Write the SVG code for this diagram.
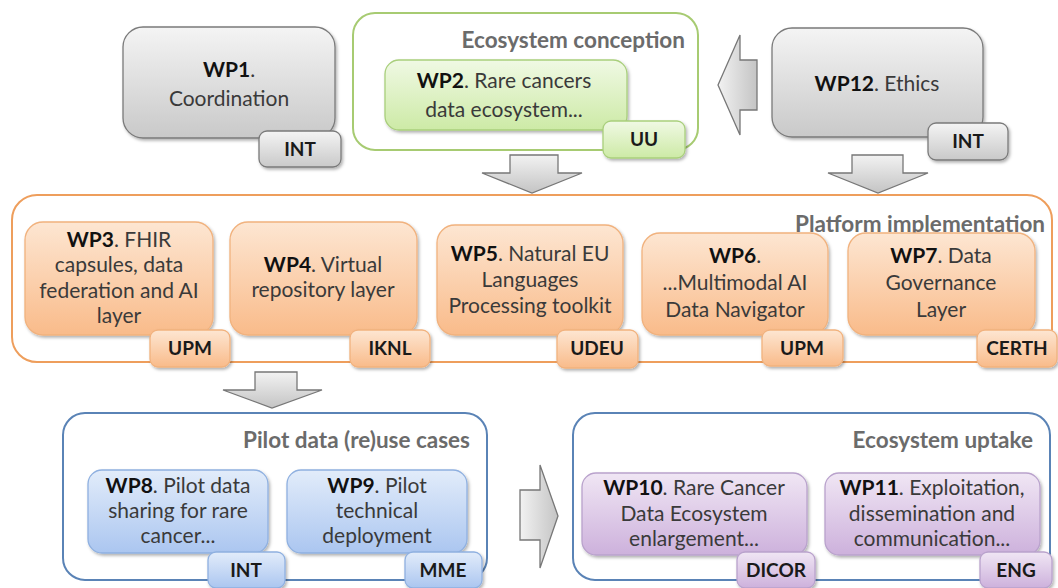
<svg xmlns="http://www.w3.org/2000/svg" width="1058" height="588" viewBox="0 0 1058 588">
<defs>
<linearGradient id="gGray" x1="0" y1="0" x2="0" y2="1"><stop offset="0" stop-color="#f4f4f4"/><stop offset="1" stop-color="#c9c9c9"/></linearGradient>
<linearGradient id="gGreen" x1="0" y1="0" x2="0" y2="1"><stop offset="0" stop-color="#f0f9e4"/><stop offset="1" stop-color="#cdeaa6"/></linearGradient>
<linearGradient id="gOrange" x1="0" y1="0" x2="0" y2="1"><stop offset="0" stop-color="#fde6d2"/><stop offset="1" stop-color="#f9bb8a"/></linearGradient>
<linearGradient id="gBlue" x1="0" y1="0" x2="0" y2="1"><stop offset="0" stop-color="#e2ecfa"/><stop offset="1" stop-color="#abc6f0"/></linearGradient>
<linearGradient id="gPurple" x1="0" y1="0" x2="0" y2="1"><stop offset="0" stop-color="#f0e6f4"/><stop offset="1" stop-color="#cdb1dc"/></linearGradient>
<linearGradient id="gArrow" x1="0" y1="0" x2="0" y2="1"><stop offset="0" stop-color="#f2f2f2"/><stop offset="1" stop-color="#c4c4c4"/></linearGradient>
<linearGradient id="gArrowH" x1="0" y1="0" x2="1" y2="0"><stop offset="0" stop-color="#f2f2f2"/><stop offset="1" stop-color="#c4c4c4"/></linearGradient>
<filter id="sh" x="-10%" y="-10%" width="130%" height="140%"><feDropShadow dx="1.5" dy="2" stdDeviation="1.8" flood-color="#000" flood-opacity="0.3"/></filter>
</defs>
<style>
text{font-family:Lato,"Open Sans","Liberation Sans",sans-serif;}
.t{font-size:21px;fill:#3a3a3a;text-anchor:middle;}
.t tspan.b{font-weight:bold;fill:#111;}
.tag{font-size:19px;font-weight:bold;fill:#1a1a1a;text-anchor:middle;}
.title{font-size:22.5px;font-weight:bold;fill:#6b6b6b;text-anchor:end;}
.gray{fill:url(#gGray);stroke:#7a7a7a;stroke-width:1.3;filter:url(#sh);}
.green{fill:url(#gGreen);stroke:#a9cf7c;stroke-width:1.3;filter:url(#sh);}
.orange{fill:url(#gOrange);stroke:#f1b27e;stroke-width:1.3;filter:url(#sh);}
.blue{fill:url(#gBlue);stroke:#8fb0e0;stroke-width:1.3;filter:url(#sh);}
.purple{fill:url(#gPurple);stroke:#b9a2cc;stroke-width:1.3;filter:url(#sh);}
.cont{fill:#fff;stroke-width:2;}
.arrow{fill:url(#gArrow);stroke:#777;stroke-width:1.3;stroke-linejoin:miter;}
</style>
<rect width="1058" height="588" fill="#fff"/>

<g id="containers">
<rect id="ecosystem-conception" class="cont" x="353" y="13" width="345" height="137" rx="22" stroke="#a7cb72"/>
<rect id="platform-implementation" class="cont" x="12" y="195" width="1040" height="167" rx="25" stroke="#ee9e5c"/>
<rect id="pilot-cases" class="cont" x="63" y="413" width="424" height="167" rx="22" stroke="#5a83b6"/>
<rect id="ecosystem-uptake" class="cont" x="573" y="413" width="477" height="167" rx="22" stroke="#5a83b6"/>
<text class="title" x="685" y="48">Ecosystem conception</text>
<text class="title" x="1045" y="232">Platform implementation</text>
<text class="title" x="470" y="448">Pilot data (re)use cases</text>
<text class="title" x="1033" y="448">Ecosystem uptake</text>
</g>

<g id="connectors">
<polygon class="arrow" points="510,155 558,155 558,173 582,173 532,193 482,173 510,173"/>
<polygon class="arrow" points="852,155 903,155 903,173 928,173 878,193 828,173 852,173"/>
<polygon class="arrow" style="fill:url(#gArrowH)" points="718,85 740,35 740,60 757,60 757,110 740,110 740,135"/>
<polygon class="arrow" points="255,372 297,372 297,390 322,390 272,408 223,390 255,390"/>
<polygon class="arrow" style="fill:url(#gArrowH)" points="520,490 540,490 540,465 558,516 540,568 540,540 520,540"/>
</g>

<g id="wp1">
<rect class="gray" x="123" y="27" width="212" height="111" rx="20"/>
<text class="t" x="229" y="77"><tspan class="b">WP1</tspan>.</text>
<text class="t" x="229" y="106">Coordination</text>
<rect class="gray" x="259" y="131" width="82" height="36" rx="8"/>
<text class="tag" x="300" y="156">INT</text>
</g>

<g id="wp2">
<rect class="green" x="385" y="60" width="242" height="70" rx="14"/>
<text class="t" x="504" y="88"><tspan class="b">WP2</tspan>. Rare cancers</text>
<text class="t" x="504" y="117">data ecosystem...</text>
<rect class="green" x="603" y="121" width="82" height="37" rx="8"/>
<text class="tag" x="644" y="146">UU</text>
</g>

<g id="wp12">
<rect class="gray" x="772" y="28" width="211" height="109" rx="20"/>
<text class="t" x="877" y="91"><tspan class="b">WP12</tspan>. Ethics</text>
<rect class="gray" x="928" y="123" width="80" height="37" rx="8"/>
<text class="tag" x="968" y="148">INT</text>
</g>

<g id="wp3">
<rect class="orange" x="25" y="222" width="188" height="113" rx="18"/>
<text class="t" x="119" y="247"><tspan class="b">WP3</tspan>. FHIR</text>
<text class="t" x="119" y="272">capsules, data</text>
<text class="t" x="119" y="298">federation and AI</text>
<text class="t" x="119" y="323">layer</text>
<rect class="orange" x="150" y="330" width="80" height="37" rx="8"/>
<text class="tag" x="190" y="355">UPM</text>
</g>

<g id="wp4">
<rect class="orange" x="230" y="222" width="187" height="113" rx="18"/>
<text class="t" x="323" y="272"><tspan class="b">WP4</tspan>. Virtual</text>
<text class="t" x="323" y="297">repository layer</text>
<rect class="orange" x="350" y="330" width="80" height="37" rx="8"/>
<text class="tag" x="390" y="355">IKNL</text>
</g>

<g id="wp5">
<rect class="orange" x="437" y="225" width="186" height="110" rx="18"/>
<text class="t" x="530" y="261"><tspan class="b">WP5</tspan>. Natural EU</text>
<text class="t" x="530" y="287">Languages</text>
<text class="t" x="530" y="313">Processing toolkit</text>
<rect class="orange" x="557" y="330" width="81" height="38" rx="8"/>
<text class="tag" x="597" y="355">UDEU</text>
</g>

<g id="wp6">
<rect class="orange" x="642" y="233" width="186" height="102" rx="18"/>
<text class="t" x="735" y="263"><tspan class="b">WP6</tspan>.</text>
<text class="t" x="735" y="290">...Multimodal AI</text>
<text class="t" x="735" y="317">Data Navigator</text>
<rect class="orange" x="762" y="330" width="81" height="36" rx="8"/>
<text class="tag" x="802" y="355">UPM</text>
</g>

<g id="wp7">
<rect class="orange" x="848" y="233" width="187" height="102" rx="18"/>
<text class="t" x="941" y="263"><tspan class="b">WP7</tspan>. Data</text>
<text class="t" x="941" y="290">Governance</text>
<text class="t" x="941" y="317">Layer</text>
<rect class="orange" x="977" y="330" width="80" height="37" rx="8"/>
<text class="tag" x="1017" y="355">CERTH</text>
</g>

<g id="wp8">
<rect class="blue" x="88" y="470" width="180" height="83" rx="14"/>
<text class="t" x="178" y="493"><tspan class="b">WP8</tspan>. Pilot data</text>
<text class="t" x="178" y="518">sharing for rare</text>
<text class="t" x="178" y="543">cancer...</text>
<rect class="blue" x="208" y="552" width="77" height="36" rx="8"/>
<text class="tag" x="246" y="577">INT</text>
</g>

<g id="wp9">
<rect class="blue" x="287" y="470" width="180" height="83" rx="14"/>
<text class="t" x="377" y="493"><tspan class="b">WP9</tspan>. Pilot</text>
<text class="t" x="377" y="518">technical</text>
<text class="t" x="377" y="543">deployment</text>
<rect class="blue" x="405" y="552" width="77" height="36" rx="8"/>
<text class="tag" x="443" y="577">MME</text>
</g>

<g id="wp10">
<rect class="purple" x="582" y="473" width="225" height="82" rx="14"/>
<text class="t" x="694" y="495"><tspan class="b">WP10</tspan>. Rare Cancer</text>
<text class="t" x="694" y="521">Data Ecosystem</text>
<text class="t" x="694" y="546">enlargement...</text>
<rect class="purple" x="737" y="552" width="78" height="36" rx="8"/>
<text class="tag" x="776" y="577">DICOR</text>
</g>

<g id="wp11">
<rect class="purple" x="825" y="473" width="215" height="82" rx="14"/>
<text class="t" x="932" y="495"><tspan class="b">WP11</tspan>. Exploitation,</text>
<text class="t" x="932" y="521">dissemination and</text>
<text class="t" x="932" y="546">communication...</text>
<rect class="purple" x="980" y="552" width="72" height="36" rx="8"/>
<text class="tag" x="1016" y="577">ENG</text>
</g>
</svg>
